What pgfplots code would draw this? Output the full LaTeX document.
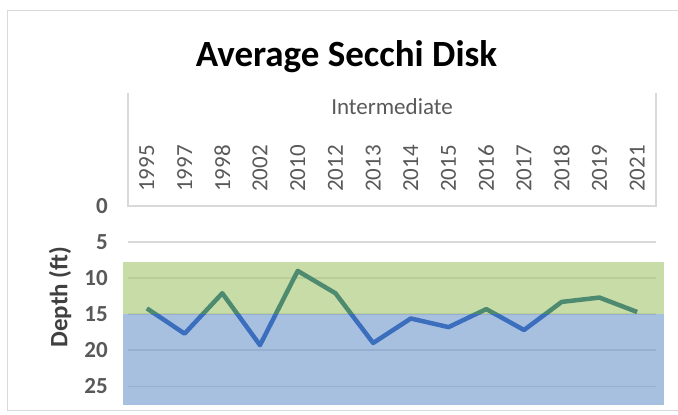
\documentclass[border=0pt]{standalone}
\usepackage{pgfplots}
\pgfplotsset{compat=1.18}
\usepackage{fontspec}
\setmainfont{Carlito}
\definecolor{gridc}{HTML}{D9D9D9}
\definecolor{txtc}{HTML}{595959}
\definecolor{labc}{HTML}{404040}
\definecolor{bandg}{HTML}{A3C56E}
\definecolor{bandb}{HTML}{6E96CB}
\definecolor{lineg}{HTML}{4E8A70}
\definecolor{lineb}{HTML}{3C6EBE}
\begin{document}
\begin{tikzpicture}
\begin{axis}[
  scale only axis, width=528pt, height=199pt,
  xmin=-0.5, xmax=13.5, ymin=0, ymax=27.6, y dir=reverse,
  clip=false,
  axis line style={draw=none},
  major tick style={draw=none},
  xtick={0,...,13},
  xticklabels={1995,1997,1998,2002,2010,2012,2013,2014,2015,2016,2017,2018,2019,2021},
  xticklabel pos=right,
  xticklabel style={rotate=90, anchor=west, inner sep=0pt, font=\fontsize{23}{23}\selectfont, text=txtc},
  xticklabel shift=14pt,
  ytick={0,5,...,25},
  yticklabel style={font=\fontsize{23}{23}\selectfont\bfseries, text=txtc, inner sep=0pt, anchor=east},
  yticklabel shift=20pt,
  /pgf/number format/assume math mode=true,
  ymajorgrids, grid style={gridc, line width=1.5pt},
]
% background bands
\addplot[draw=none, fill=bandg, fill opacity=0.6] coordinates {(-0.633,7.8) (13.712,7.8) (13.712,15) (-0.633,15)} -- cycle;
\addplot[draw=none, fill=bandb, fill opacity=0.6] coordinates {(-0.633,15) (13.712,15) (13.712,27.6) (-0.633,27.6)} -- cycle;
% category box
\draw[gridc, line width=1.5pt] (axis cs:-0.5,-15.7) -- (axis cs:-0.5,0) -- (axis cs:13.5,0) -- (axis cs:13.5,-15.7);
% outer frame
\draw[gridc, line width=1pt] (axis cs:14.3,28.43) -- (axis cs:-3.682,28.43) -- (axis cs:-3.682,-27.05) -- (axis cs:14.3,-27.05);
% line, green part
\begin{scope}
\clip (axis cs:-1,-1) rectangle (axis cs:14,15);
\addplot[lineg, line width=4.5pt, line join=round, mark=none] coordinates {
(0,14.2) (1,17.7) (2,12.1) (3,19.3) (4,9.0) (5,12.1) (6,19.0) (7,15.6) (8,16.8) (9,14.3) (10,17.2) (11,13.3) (12,12.7) (13,14.7)};
\end{scope}
% line, blue part
\begin{scope}
\clip (axis cs:-1,15) rectangle (axis cs:14,30);
\addplot[lineb, line width=4.5pt, line join=round, mark=none] coordinates {
(0,14.2) (1,17.7) (2,12.1) (3,19.3) (4,9.0) (5,12.1) (6,19.0) (7,15.6) (8,16.8) (9,14.3) (10,17.2) (11,13.3) (12,12.7) (13,14.7)};
\end{scope}
% texts
\node[font=\fontsize{37}{37}\selectfont\bfseries, anchor=base, text=black] at (axis cs:5.294,-19.28) {Average Secchi Disk};
\node[font=\fontsize{23}{23}\selectfont, text=txtc] at (axis cs:6.5,-13.73) {Intermediate};
\node[rotate=90, font=\fontsize{25}{25}\selectfont\bfseries, text=labc] at (axis cs:-2.303,12.62) {Depth (ft)};
\coordinate (bl) at (axis cs:-3.894,28.85);
\coordinate (tr) at (axis cs:14.083,-28.57);
\end{axis}
\pgfresetboundingbox
\path[use as bounding box] (bl) rectangle (tr);
\end{tikzpicture}
\end{document}
